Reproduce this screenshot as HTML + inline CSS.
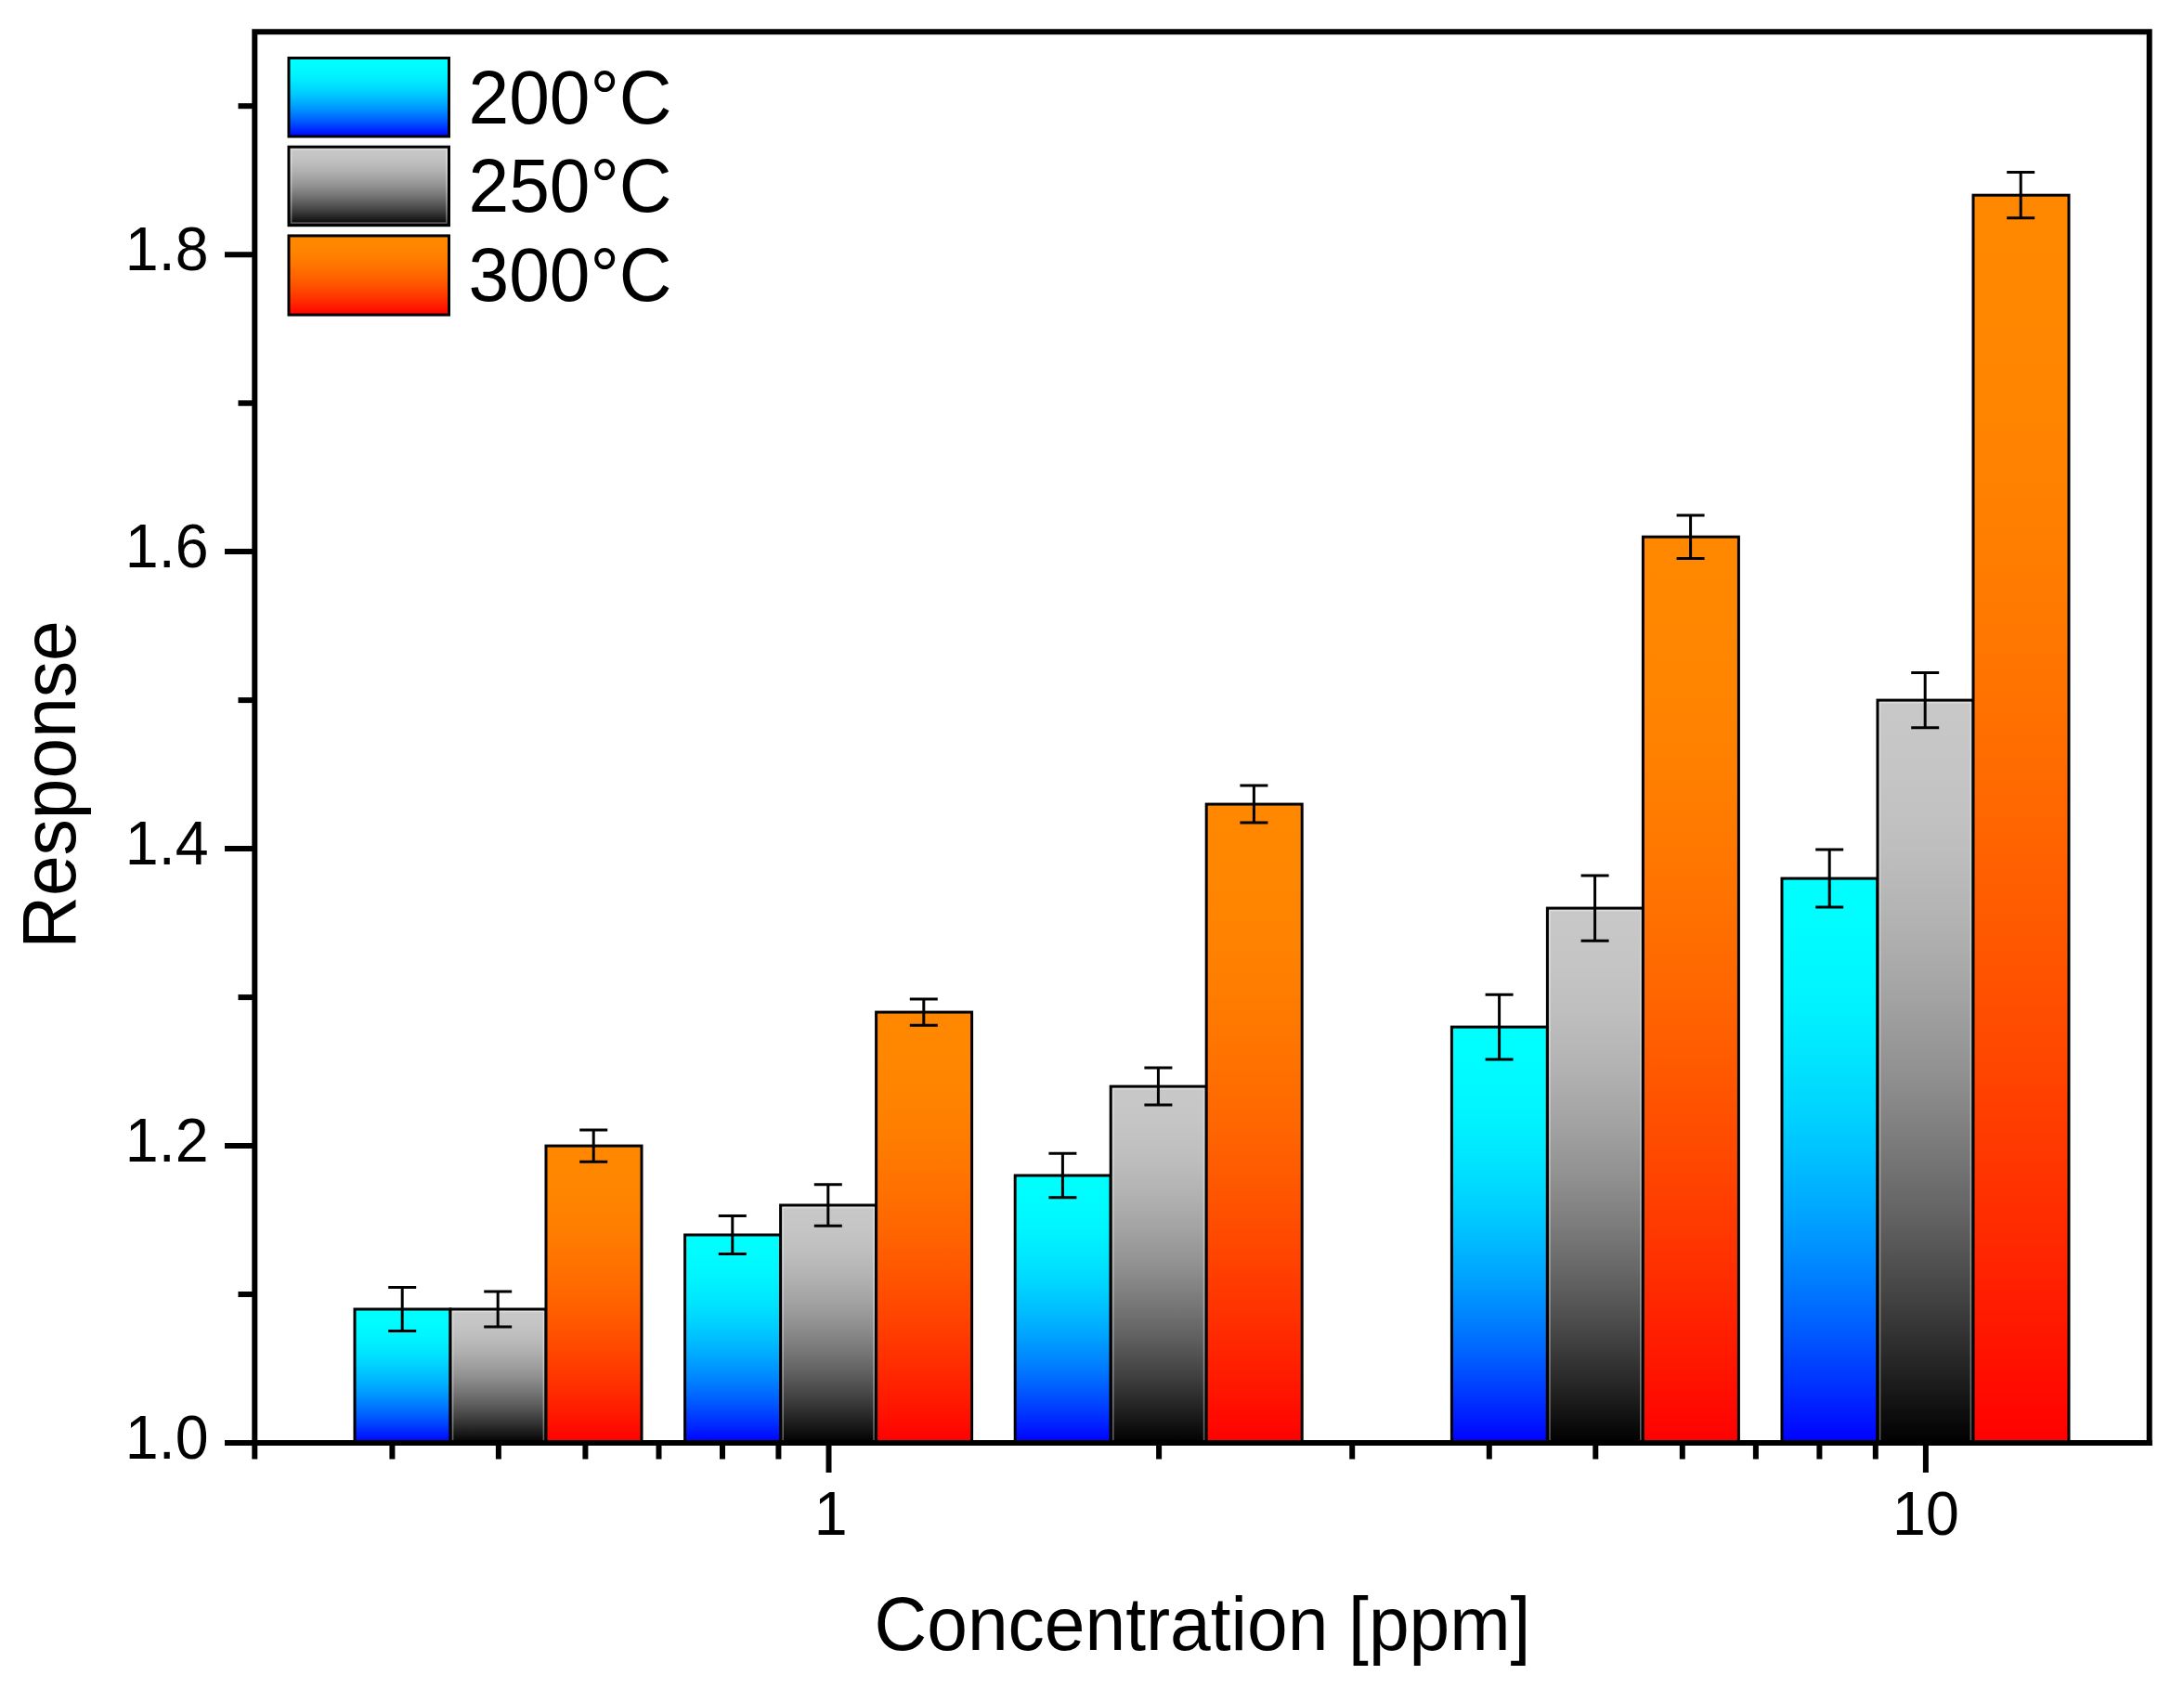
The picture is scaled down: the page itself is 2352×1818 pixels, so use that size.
<!DOCTYPE html>
<html lang="en"><head><meta charset="utf-8"><title>Response vs Concentration</title>
<style>html,body{margin:0;padding:0;background:#fff}body{width:2352px;height:1818px;overflow:hidden}svg{display:block}text{font-family:"Liberation Sans",Arial,Helvetica,sans-serif;fill:#000}</style>
</head><body>
<svg width="2352" height="1818" viewBox="0 0 2352 1818">
<defs>
<linearGradient id="gc" x1="0" y1="0" x2="0" y2="1"><stop offset="0" stop-color="rgb(0,255,255)"/><stop offset="0.1" stop-color="rgb(0,252,255)"/><stop offset="0.2" stop-color="rgb(0,245,255)"/><stop offset="0.3" stop-color="rgb(0,232,255)"/><stop offset="0.4" stop-color="rgb(0,214,255)"/><stop offset="0.5" stop-color="rgb(0,191,255)"/><stop offset="0.6" stop-color="rgb(0,163,255)"/><stop offset="0.7" stop-color="rgb(0,130,255)"/><stop offset="0.8" stop-color="rgb(0,92,255)"/><stop offset="0.9" stop-color="rgb(0,48,255)"/><stop offset="1" stop-color="rgb(0,0,255)"/></linearGradient>
<linearGradient id="gg" x1="0" y1="0" x2="0" y2="1"><stop offset="0" stop-color="rgb(200,200,200)"/><stop offset="0.1" stop-color="rgb(197,197,197)"/><stop offset="0.2" stop-color="rgb(190,190,190)"/><stop offset="0.3" stop-color="rgb(178,178,178)"/><stop offset="0.4" stop-color="rgb(163,163,163)"/><stop offset="0.5" stop-color="rgb(145,145,145)"/><stop offset="0.6" stop-color="rgb(122,122,122)"/><stop offset="0.7" stop-color="rgb(97,97,97)"/><stop offset="0.8" stop-color="rgb(68,68,68)"/><stop offset="0.9" stop-color="rgb(35,35,35)"/><stop offset="1" stop-color="rgb(0,0,0)"/></linearGradient>
<linearGradient id="go" x1="0" y1="0" x2="0" y2="1"><stop offset="0" stop-color="rgb(255,136,0)"/><stop offset="0.1" stop-color="rgb(255,135,0)"/><stop offset="0.2" stop-color="rgb(255,131,0)"/><stop offset="0.3" stop-color="rgb(255,124,0)"/><stop offset="0.4" stop-color="rgb(255,114,0)"/><stop offset="0.5" stop-color="rgb(255,102,0)"/><stop offset="0.6" stop-color="rgb(255,87,0)"/><stop offset="0.7" stop-color="rgb(255,69,0)"/><stop offset="0.8" stop-color="rgb(255,49,0)"/><stop offset="0.9" stop-color="rgb(255,26,0)"/><stop offset="1" stop-color="rgb(255,0,0)"/></linearGradient>
</defs>
<rect x="0" y="0" width="2352" height="1818" fill="#fff"/>
<g stroke="#000" stroke-width="3" stroke-linejoin="miter">
<rect x="382.0" y="1410.0" width="103.0" height="144.0" fill="url(#gc)"/>
<rect x="485.0" y="1410.0" width="103.0" height="144.0" fill="url(#gg)"/>
<rect x="588.0" y="1234.1" width="103.0" height="319.9" fill="url(#go)"/>
<rect x="737.6" y="1330.0" width="103.0" height="224.0" fill="url(#gc)"/>
<rect x="840.6" y="1298.0" width="103.0" height="256.0" fill="url(#gg)"/>
<rect x="943.6" y="1090.1" width="103.0" height="463.9" fill="url(#go)"/>
<rect x="1093.2" y="1266.0" width="103.0" height="288.0" fill="url(#gc)"/>
<rect x="1196.2" y="1170.1" width="103.0" height="383.9" fill="url(#gg)"/>
<rect x="1299.2" y="866.1" width="103.0" height="687.9" fill="url(#go)"/>
<rect x="1563.4" y="1106.1" width="103.0" height="447.9" fill="url(#gc)"/>
<rect x="1666.4" y="978.1" width="103.0" height="575.9" fill="url(#gg)"/>
<rect x="1769.4" y="578.2" width="103.0" height="975.8" fill="url(#go)"/>
<rect x="1919.0" y="946.1" width="103.0" height="607.9" fill="url(#gc)"/>
<rect x="2022.0" y="754.1" width="103.0" height="799.9" fill="url(#gg)"/>
<rect x="2125.0" y="210.2" width="103.0" height="1343.8" fill="url(#go)"/>
</g>
<g fill="none" stroke="#fff" stroke-opacity="0.35" stroke-width="1.6">
<rect x="487.6" y="1412.6" width="97.8" height="141.4"/>
<rect x="843.2" y="1300.6" width="97.8" height="253.4"/>
<rect x="1198.8" y="1172.7" width="97.8" height="381.3"/>
<rect x="1669.0" y="980.7" width="97.8" height="573.3"/>
<rect x="2024.6" y="756.7" width="97.8" height="797.3"/>
</g>
<g stroke="#000" stroke-width="3" fill="none">
<path d="M433.2 1386.5V1433.5M418.2 1386.5H448.2M418.2 1433.5H448.2"/>
<path d="M536.2 1391.1V1428.9M521.2 1391.1H551.2M521.2 1428.9H551.2"/>
<path d="M639.2 1217.0V1251.2M624.2 1217.0H654.2M624.2 1251.2H654.2"/>
<path d="M788.8 1309.5V1350.5M773.8 1309.5H803.8M773.8 1350.5H803.8"/>
<path d="M891.8 1275.7V1320.3M876.8 1275.7H906.8M876.8 1320.3H906.8"/>
<path d="M994.8 1075.9V1104.3M979.8 1075.9H1009.8M979.8 1104.3H1009.8"/>
<path d="M1144.4 1242.2V1289.8M1129.4 1242.2H1159.4M1129.4 1289.8H1159.4"/>
<path d="M1247.4 1150.1V1190.1M1232.4 1150.1H1262.4M1232.4 1190.1H1262.4"/>
<path d="M1350.4 846.1V886.1M1335.4 846.1H1365.4M1335.4 886.1H1365.4"/>
<path d="M1614.6 1071.3V1140.9M1599.6 1071.3H1629.6M1599.6 1140.9H1629.6"/>
<path d="M1717.6 942.9V1013.3M1702.6 942.9H1732.6M1702.6 1013.3H1732.6"/>
<path d="M1820.6 555.0V601.4M1805.6 555.0H1835.6M1805.6 601.4H1835.6"/>
<path d="M1970.2 915.1V977.1M1955.2 915.1H1985.2M1955.2 977.1H1985.2"/>
<path d="M2073.2 724.4V783.8M2058.2 724.4H2088.2M2058.2 783.8H2088.2"/>
<path d="M2176.2 185.6V234.8M2161.2 185.6H2191.2M2161.2 234.8H2191.2"/>
</g>
<g stroke="#000" stroke-width="6" fill="none" stroke-linecap="butt">
<path d="M274.3 1571.5V34.2H2314.7V1557.0"/>
<path d="M271.3 1554.0H2317.7"/>
<path d="M242.0 1554.0H274.3"/>
<path d="M256.5 1394.0H274.3"/>
<path d="M242.0 1234.1H274.3"/>
<path d="M256.5 1074.1H274.3"/>
<path d="M242.0 914.1H274.3"/>
<path d="M256.5 754.1H274.3"/>
<path d="M242.0 594.1H274.3"/>
<path d="M256.5 434.2H274.3"/>
<path d="M242.0 274.2H274.3"/>
<path d="M256.5 114.2H274.3"/>
<path d="M422.4 1554.0V1571.5"/>
<path d="M536.9 1554.0V1571.5"/>
<path d="M630.4 1554.0V1571.5"/>
<path d="M709.5 1554.0V1571.5"/>
<path d="M778.0 1554.0V1571.5"/>
<path d="M838.4 1554.0V1571.5"/>
<path d="M1248.1 1554.0V1571.5"/>
<path d="M1456.2 1554.0V1571.5"/>
<path d="M1603.8 1554.0V1571.5"/>
<path d="M1718.3 1554.0V1571.5"/>
<path d="M1811.8 1554.0V1571.5"/>
<path d="M1890.9 1554.0V1571.5"/>
<path d="M1959.4 1554.0V1571.5"/>
<path d="M2019.8 1554.0V1571.5"/>
<path d="M892.5 1554.0V1586.0"/>
<path d="M2073.9 1554.0V1586.0"/>
</g>
<g font-size="64.5">
<text transform="translate(224.5 1570.8) scale(1 1.04)" text-anchor="end">1.0</text>
<text transform="translate(224.5 1250.9) scale(1 1.04)" text-anchor="end">1.2</text>
<text transform="translate(224.5 930.9) scale(1 1.04)" text-anchor="end">1.4</text>
<text transform="translate(224.5 610.9) scale(1 1.04)" text-anchor="end">1.6</text>
<text transform="translate(224.5 291.0) scale(1 1.04)" text-anchor="end">1.8</text>
<text transform="translate(894.8 1653.0) scale(1 1.04)" text-anchor="middle">1</text>
<text transform="translate(2073.9 1653.0) scale(1 1.04)" text-anchor="middle">10</text>
</g>
<g font-size="78.5">
<text transform="translate(1295.0 1777.0) scale(1 1.04)" text-anchor="middle">Concentration [ppm]</text>
<text transform="translate(81.4 845.0) rotate(-90) scale(1 1.04)" text-anchor="middle">Response</text>
<text transform="translate(504.5 132.5) scale(1 1.04)" text-anchor="start">200°C</text>
<text transform="translate(504.5 228.0) scale(1 1.04)" text-anchor="start">250°C</text>
<text transform="translate(504.5 323.5) scale(1 1.04)" text-anchor="start">300°C</text>
</g>
<g stroke="#000" stroke-width="3">
<rect x="311" y="62.5" width="172.5" height="84.5" fill="url(#gc)"/>
<rect x="311" y="158.2" width="172.5" height="84.5" fill="url(#gg)"/>
<rect x="311" y="253.9" width="172.5" height="85.2" fill="url(#go)"/>
</g>
<rect x="313.6" y="160.8" width="167.3" height="79.3" fill="none" stroke="#fff" stroke-opacity="0.35" stroke-width="1.6"/>
</svg>
</body></html>
